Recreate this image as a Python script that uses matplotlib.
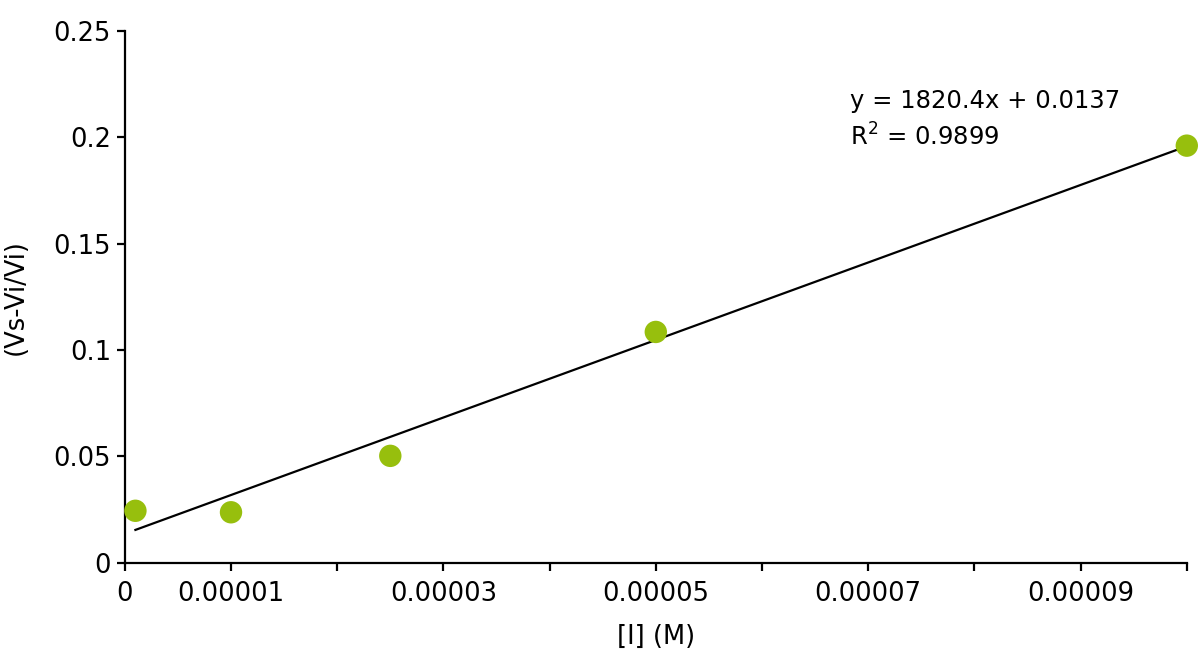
import matplotlib
matplotlib.use("Agg")
import matplotlib.pyplot as plt
import numpy as np

plt.rcParams['font.family'] = ['DejaVu Sans']

conc = [0.000001, 0.00001, 0.000025, 0.00005, 0.0001]
ratio = [0.0245, 0.0238, 0.0503, 0.1085, 0.196]
slope = 1820.4
intercept = 0.0137
xticks = [0, 0.00001, 0.00002, 0.00003, 0.00004, 0.00005, 0.00006, 0.00007, 0.00008, 0.00009, 0.0001]
xticklabels = ['0', '0.00001', '', '0.00003', '', '0.00005', '', '0.00007', '', '0.00009', '']
yticks = [0, 0.05, 0.1, 0.15, 0.2, 0.25]
yticklabels = ['0', '0.05', '0.1', '0.15', '0.2', '0.25']

fs = 18.5

fig = plt.figure(figsize=(12, 6.67), dpi=100)
ax = fig.add_axes([0.104, 0.156, 0.885, 0.798])

ax.scatter(conc, ratio, s=260, color='#97BF0D', zorder=3, edgecolors='none', clip_on=False)
xl = np.array([conc[0], conc[-1]])
ax.plot(xl, slope * xl + intercept, color='black', lw=1.6, zorder=2)

ax.set_xlim(0, 0.0001)
ax.set_ylim(0, 0.25)
ax.set_xticks(xticks)
ax.set_xticklabels(xticklabels)
ax.set_yticks(yticks)
ax.set_yticklabels(yticklabels)
for s in ['top', 'right']:
    ax.spines[s].set_visible(False)
for s in ['left', 'bottom']:
    ax.spines[s].set_linewidth(1.6)
ax.tick_params(axis='y', direction='out', length=6, width=1.6, labelsize=fs, pad=4)
ax.tick_params(axis='x', direction='out', length=6, width=1.6, labelsize=fs, pad=7)
ax.set_xlabel('[I] (M)', fontsize=fs, labelpad=12)
ax.set_ylabel('(Vs-Vi/Vi)', fontsize=fs, labelpad=18)

ax.text(0.0000683, 0.217, 'y = 1820.4x + 0.0137', fontsize=17.5, va='center')
ax.text(0.0000683, 0.2, 'R$^2$ = 0.9899', fontsize=17.5, va='center')

fig.savefig('out.png', dpi=100)
